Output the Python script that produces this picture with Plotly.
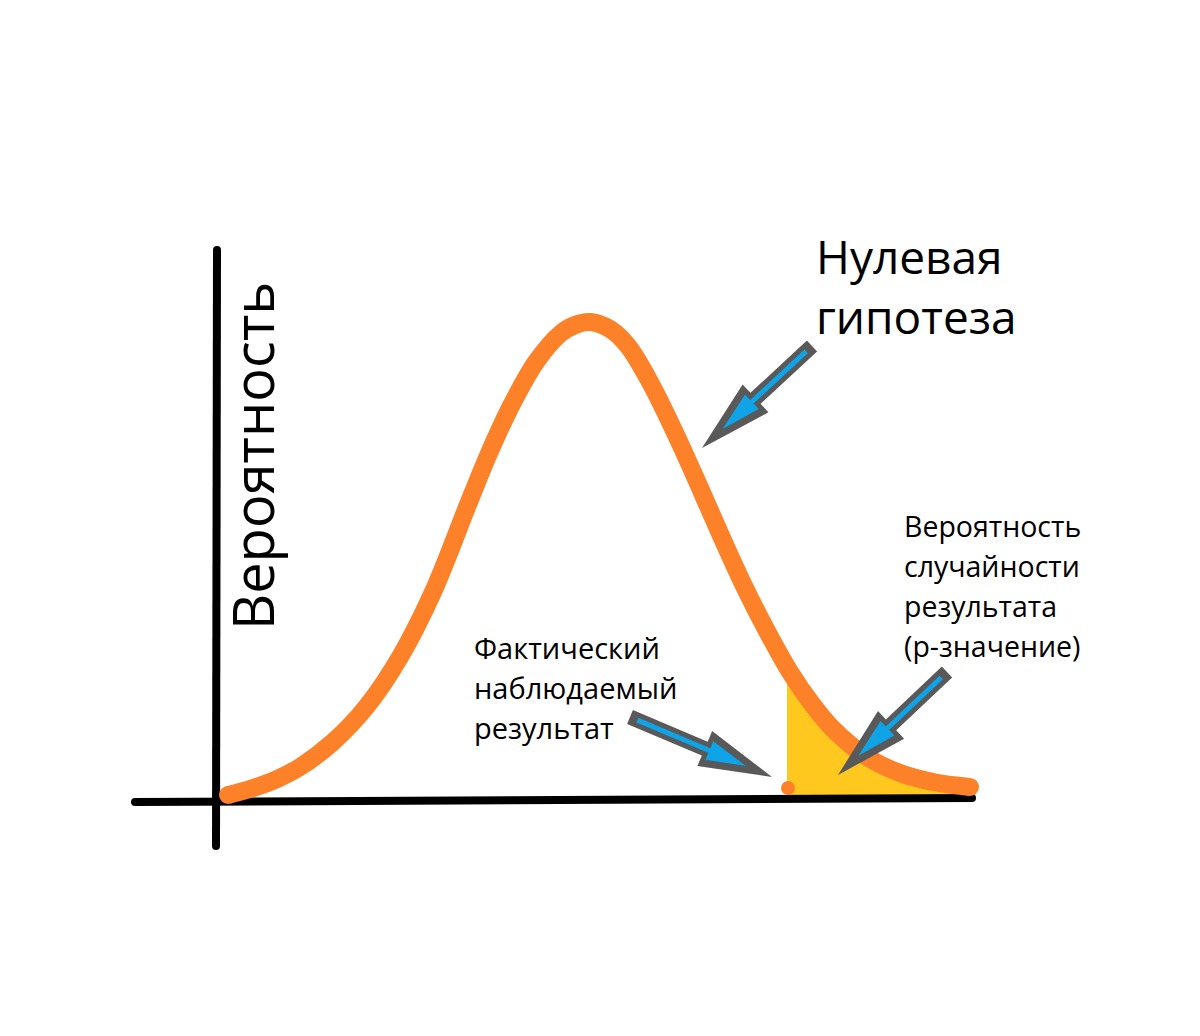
import numpy as np
import plotly.graph_objects as go

# ---- data (in pixel-like units) ----
curve_x = [228, 250, 275, 300, 333, 367, 400, 433, 469, 490, 512, 536, 560, 575, 590,
           610, 628, 651, 677, 700, 722, 745, 768, 790, 812, 833, 867, 900, 933, 970]
curve_y = [795, 789, 780, 767, 742, 706, 657, 592, 502, 451, 404, 362, 334, 325, 322,
           329, 346, 384, 437, 488, 538, 588, 633, 672, 704, 729, 757, 773, 782, 787]

x_axis_x = [135, 972]
x_axis_y = [802, 798]
y_axis_x = [217, 216]
y_axis_y = [250, 846]

p_cut_x = 787          # start of shaded p-value tail
tail_floor_y = 797     # bottom of shaded tail
observed_x = [788]
observed_y = [788]

arrow_tail_x = [812, 630, 947]
arrow_tail_y = [346, 717, 672]
arrow_tip_x = [702, 772, 838]
arrow_tip_y = [448, 777, 775]

title_lines = ["Нулевая", "гипотеза"]
obs_lines = ["Фактический", "наблюдаемый", "результат"]
p_lines = ["Вероятность", "случайности", "результата", "(p-значение)"]
y_label = "Вероятность"

ORANGE = "#fd8128"
YELLOW = "#fec81e"
GRAY = "#595959"
BLUE = "#0fa3e8"
FONT = "Open Sans"

fig = go.Figure()

# shaded tail
cx = np.array(curve_x, float)
cy = np.array(curve_y, float)
y_cut = float(np.interp(p_cut_x, cx, cy))
mask = cx > p_cut_x
fx = [p_cut_x, p_cut_x] + list(cx[mask]) + [cx[-1]]
fy = [tail_floor_y, y_cut] + list(cy[mask]) + [tail_floor_y]
fig.add_trace(go.Scatter(x=fx, y=fy, mode="lines", fill="toself", fillcolor=YELLOW,
                         line=dict(width=0), hoverinfo="skip"))

# axes
for ax_x, ax_y in [(x_axis_x, x_axis_y), (y_axis_x, y_axis_y)]:
    fig.add_trace(go.Scatter(x=ax_x, y=ax_y, mode="lines+markers",
                             line=dict(color="black", width=8),
                             marker=dict(color="black", size=8), hoverinfo="skip"))

# curve
fig.add_trace(go.Scatter(x=curve_x, y=curve_y, mode="lines",
                         line=dict(color=ORANGE, width=18, shape="spline", smoothing=1.0),
                         hoverinfo="skip"))
fig.add_trace(go.Scatter(x=[curve_x[0], curve_x[-1]], y=[curve_y[0], curve_y[-1]], mode="markers",
                         marker=dict(color=ORANGE, size=18), hoverinfo="skip"))

# observed point
fig.add_trace(go.Scatter(x=observed_x, y=observed_y, mode="markers",
                         marker=dict(color=ORANGE, size=14), hoverinfo="skip"))

# arrows
def arrow_poly(T, P, s, hw, L, tail_in=0.0, tip_in=0.0, base_shift=0.0):
    T = np.array(T, float); P = np.array(P, float)
    d = (P - T) / np.linalg.norm(P - T)
    n = np.array([-d[1], d[0]])
    B = P - d * L + d * base_shift
    T2 = T + d * tail_in
    P2 = P - d * tip_in
    pts = [T2 + n * s, B + n * s, B + n * hw, P2, B - n * hw, B - n * s, T2 - n * s, T2 + n * s]
    return [p[0] for p in pts], [p[1] for p in pts]

for tx, ty, px, py in zip(arrow_tail_x, arrow_tail_y, arrow_tip_x, arrow_tip_y):
    gx, gy = arrow_poly((tx, ty), (px, py), 7.5, 19, 73)
    fig.add_trace(go.Scatter(x=gx, y=gy, mode="lines", fill="toself", fillcolor=GRAY,
                             line=dict(width=0), hoverinfo="skip"))
    bx, by = arrow_poly((tx, ty), (px, py), 2.5, 10, 73, tail_in=8, tip_in=28, base_shift=5)
    fig.add_trace(go.Scatter(x=bx, y=by, mode="lines", fill="toself", fillcolor=BLUE,
                             line=dict(width=0), hoverinfo="skip"))

# text
ann = []
ann.append(dict(x=814, y=286, text="<br>".join(title_lines), xanchor="left", yanchor="middle",
                align="left", showarrow=False, font=dict(family=FONT, size=46, color="black")))
for i, t in enumerate(obs_lines):
    ann.append(dict(x=472, y=647 + i * 40, text=t, xanchor="left", yanchor="middle",
                    showarrow=False, font=dict(family=FONT, size=29, color="black")))
for i, t in enumerate(p_lines):
    ann.append(dict(x=902, y=526 + i * 40, text=t, xanchor="left", yanchor="middle",
                    showarrow=False, font=dict(family=FONT, size=28.5, color="black")))
ann.append(dict(x=252, y=456, text=y_label, textangle=-90, xanchor="center", yanchor="middle",
                showarrow=False, font=dict(family=FONT, size=56, color="black")))

# page body has an 8px margin: map data units directly to page pixels
fig.update_layout(
    width=1192, height=1028, margin=dict(l=0, r=0, t=0, b=0),
    paper_bgcolor="white", plot_bgcolor="white", showlegend=False,
    xaxis=dict(range=[8, 1200], visible=False, fixedrange=True),
    yaxis=dict(range=[1036, 8], visible=False, fixedrange=True),
    annotations=ann,
)
fig.write_html("out.html")
